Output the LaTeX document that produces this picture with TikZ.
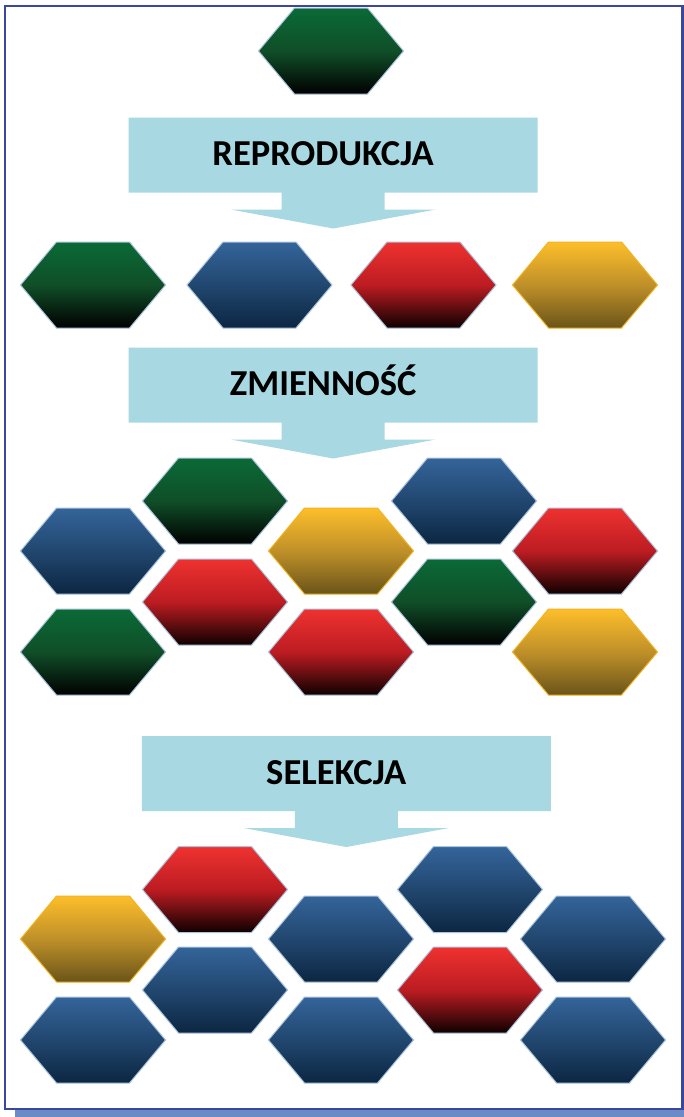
\documentclass[tikz,border=0pt]{standalone}
\usepackage{fontspec}
\setmainfont{Carlito}
\usepackage{xcolor}
\usepackage{tikz}
\usetikzlibrary{calc}
\definecolor{kframe}{HTML}{3A479E}
\definecolor{kshadow}{HTML}{6C8AC6}
\definecolor{karrow}{HTML}{A8D9E2}
\definecolor{khexline}{HTML}{A9C3DB}
\definecolor{kgreentop}{HTML}{0A6A36}
\definecolor{kgreenmid}{HTML}{104E28}
\definecolor{kbluetop}{HTML}{34649A}
\definecolor{kbluemid}{HTML}{21476F}
\definecolor{kbluebot}{HTML}{0C2642}
\definecolor{kredtop}{HTML}{EF3230}
\definecolor{kredmid}{HTML}{BC1C22}
\definecolor{kredbot}{HTML}{0F0000}
\definecolor{kyellowtop}{HTML}{FDBE2A}
\definecolor{kyellowmid}{HTML}{BF9029}
\definecolor{kyellowbot}{HTML}{6A5419}
\definecolor{kyellowline}{HTML}{F2B423}
\tikzset{
  hexbase/.style={draw=khexline, line width=0.25mm},
  hexgreen/.style={top color=kgreentop, bottom color=black, middle color=kgreenmid},
  hexblue/.style={top color=kbluetop, bottom color=kbluebot, middle color=kbluemid},
  hexred/.style={top color=kredtop, bottom color=kredbot, middle color=kredmid},
  hexyellow/.style={top color=kyellowtop, bottom color=kyellowbot, middle color=kyellowmid, draw=kyellowline},
  steplabel/.style={font=\fontsize{26}{31}\selectfont\bfseries, text=black, inner sep=0pt}
}
\newcommand{\hexcell}[3]{%
  \shadedraw[hexbase, #3] (#1-72.5,#2) -- (#1-36.5,#2-43) -- (#1+36.5,#2-43)
    -- (#1+72.5,#2) -- (#1+36.5,#2+43) -- (#1-36.5,#2+43) -- cycle;
}
\newcommand{\steparrow}[4]{%
  \fill[karrow] (#1,#2) -- (#1+409,#2) -- (#1+409,#2+75) -- (#1+256,#2+75)
    -- (#1+256,#2+92) -- (#1+307,#2+92) -- (#1+204.5,#2+111) -- (#1+102,#2+92)
    -- (#1+153,#2+92) -- (#1+153,#2+75) -- (#1,#2+75) -- cycle;
  \node[steplabel, anchor=base] (#3) at (#1+194.5,#2+48) {#4};
}

\begin{document}
\begin{tikzpicture}[x=0.25mm, y=-0.25mm]

  \useasboundingbox (0,0) rectangle (684,1117);
  \fill[white] (0,0) rectangle (684,1117);

  %% Frame
  \fill[kshadow] (15,1110) rectangle (684,1117);
  \draw[kframe, line width=0.55mm] (5,6) rectangle (682.5,1109);

  %% Start
  \hexcell{331}{51}{hexgreen}

  \steparrow{128.7}{117.5}{reprodukcja}{REPRODUKCJA}

  %% Offspring
  \foreach \x/\c in {93/hexgreen,259.5/hexblue,423.5/hexred,585/hexyellow}{
    \hexcell{\x}{285}{\c}
  }

  \steparrow{128.7}{347.5}{zmiennosc}{ZMIENNOŚĆ}

  %% Variation
  \foreach \x/\y/\c in {215/501/hexgreen, 464/501/hexblue,
      93/551/hexblue, 341/551/hexyellow, 585/551/hexred,
      215/602/hexred, 464/602/hexgreen,
      93/652/hexgreen, 341/652/hexred, 585/652/hexyellow}{
    \hexcell{\x}{\y}{\c}
  }

  \steparrow{141.8}{736}{selekcja}{SELEKCJA}

  %% After selection
  \foreach \x/\y/\c in {215/889.5/hexred, 470/889.5/hexblue,
      93/939/hexyellow, 341/939/hexblue, 593/939/hexblue,
      215/990/hexblue, 470/990/hexred,
      93/1040/hexblue, 341/1040/hexblue, 593/1040/hexblue}{
    \hexcell{\x}{\y}{\c}
  }

\end{tikzpicture}
\end{document}
